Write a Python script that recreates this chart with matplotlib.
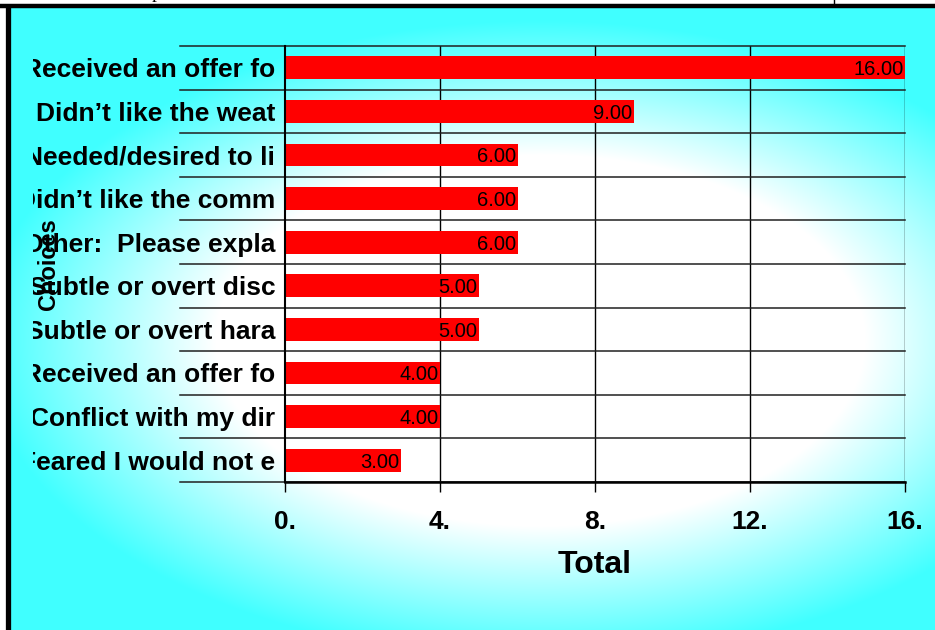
import numpy as np
import matplotlib
matplotlib.use("Agg")
import matplotlib.pyplot as plt
from matplotlib.transforms import Bbox, TransformedBbox

# ---- data ----
categories = [
    "Received an offer fo",
    "Didn\u2019t like the weat",
    "Needed/desired to li",
    "Didn\u2019t like the comm",
    "Other:  Please expla",
    "Subtle or overt disc",
    "Subtle or overt hara",
    "Received an offer fo",
    "Conflict with my dir",
    "Feared I would not e",
]
values = [16, 9, 6, 6, 6, 5, 5, 4, 4, 3]
xticks = [0, 4, 8, 12, 16]
xtick_labels = ["0.", "4.", "8.", "12.", "16."]
x_title = "Total"
y_title = "Choices"

W, H = 935, 630
fig = plt.figure(figsize=(W / 100, H / 100), dpi=100)
fig.patch.set_facecolor("white")

# ---- background gradient ----
bg = fig.add_axes([0, 0, 1, 1])
bg.set_xlim(0, W)
bg.set_ylim(H, 0)
bg.axis("off")
yy, xx = np.mgrid[0:H, 0:W]
cx, cy, rx, ry = 540, 340, 560, 320
r = np.sqrt(((xx - cx) / rx) ** 2 + ((yy - cy) / ry) ** 2)
w = np.clip((1 - r) / 0.42, 0, 1)
cyan = np.array([64, 255, 255]) / 255.0
white = np.array([1.0, 1.0, 1.0])
img = cyan[None, None, :] * (1 - w[..., None]) + white[None, None, :] * w[..., None]
# white margins outside the frame
img[:8, :, :] = 1.0
img[:, :6, :] = 1.0
bg.imshow(img, extent=[0, W, H, 0], aspect="auto", interpolation="bilinear")
# frame lines
bg.plot([0, W], [6, 6], color="black", lw=3.2, solid_capstyle="butt")
bg.plot([7.5, 7.5], [6, H], color="black", lw=3.8, solid_capstyle="butt")
bg.plot([833.5, 833.5], [0, 5], color="black", lw=1)
bg.text(157, 2, "p", fontsize=14, family="Liberation Serif", ha="center", va="bottom")

# ---- main axes ----
L, R, T, B = 285, 905, 46, 482
ax = fig.add_axes([L / W, 1 - B / H, (R - L) / W, (B - T) / H])
ax.patch.set_alpha(0)
n = len(categories)
ypos = np.arange(n)
ax.barh(ypos, values, height=0.52, color="#FF0000", zorder=2)
ax.set_xlim(0, 16)
ax.set_ylim(n - 0.5, -0.5)

# gridlines
for xv in xticks[1:]:
    ax.axvline(xv, color="black", lw=1, zorder=1)
ext = (180 - L) / (R - L)
ytr = ax.get_yaxis_transform()
for b in np.arange(-0.5, n, 1.0):
    ax.plot([ext, 1], [b, b], transform=ytr, color="#202020", lw=1.1,
            clip_on=False, zorder=1)

for s in ["top", "right"]:
    ax.spines[s].set_visible(False)
ax.spines["left"].set_linewidth(1.5)
ax.spines["bottom"].set_linewidth(1.8)
ax.spines["left"].set_zorder(3)
ax.spines["bottom"].set_zorder(3)

# x ticks
ax.set_xticks(xticks)
ax.set_xticklabels(xtick_labels, fontsize=19, fontweight="bold",
                   family="Liberation Sans")
ax.tick_params(axis="x", direction="out", length=7, width=1, pad=13)
ax.set_xlabel(x_title, fontsize=23, fontweight="bold", family="Liberation Sans",
              labelpad=12)

# y ticks
ax.set_yticks(ypos)
ax.set_yticklabels(categories, fontsize=19, fontweight="bold",
                   family="Liberation Sans")
ax.tick_params(axis="y", length=0, pad=7)
clip = TransformedBbox(Bbox([[33 / W, 0], [1, 1]]), fig.transFigure)
for lbl in ax.get_yticklabels():
    lbl.set_clip_box(clip)
    lbl.set_clip_on(True)

ax.set_ylabel(y_title, fontsize=17, fontweight="bold", family="Liberation Sans")
ax.yaxis.set_label_coords((60 - L) / (R - L), 0.5)

# data labels
for i, v in enumerate(values):
    ax.text(v - 0.04, i, f"{v:.2f}", ha="right", va="center_baseline",
            fontsize=14.5, family="Liberation Sans", color="black", zorder=4)

fig.savefig("out.png", dpi=100)
